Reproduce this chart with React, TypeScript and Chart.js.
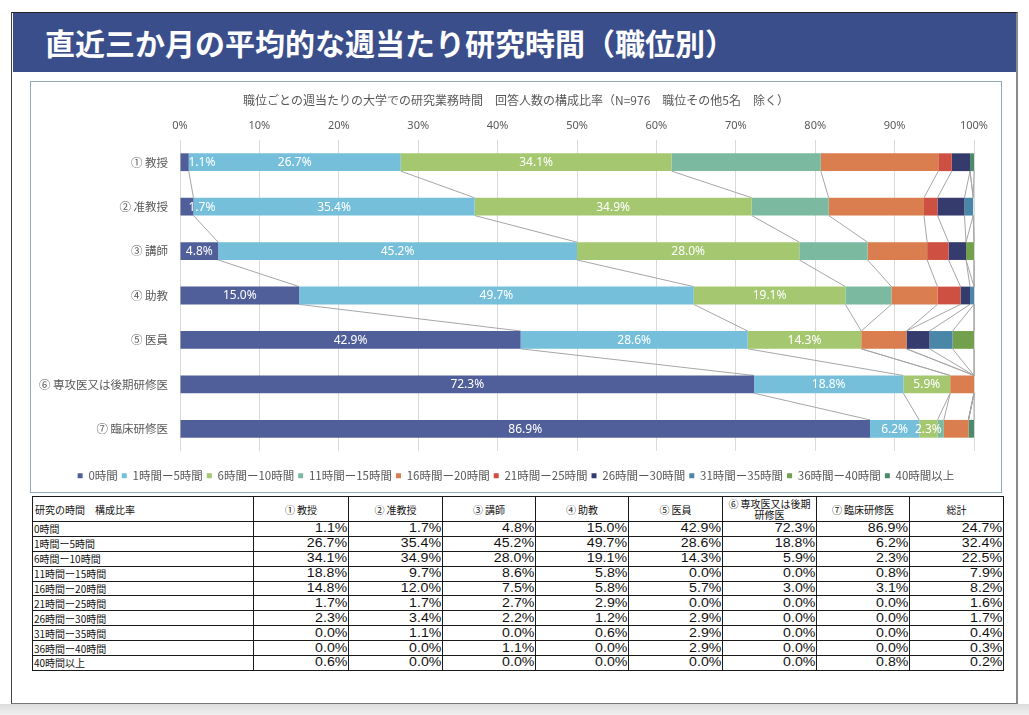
import React, { useEffect, useRef } from 'react';
import { Chart, registerables } from 'chart.js';

Chart.register(...registerables);

// ---------- data ----------
const categories = ['① 教授', '② 准教授', '③ 講師', '④ 助教', '⑤ 医員', '⑥ 専攻医又は後期研修医', '⑦ 臨床研修医'];
const tableHeaders = ['研究の時間　構成比率', '① 教授', '② 准教授', '③ 講師', '④ 助教', '⑤ 医員', '⑥ 専攻医又は後期\n研修医', '⑦ 臨床研修医', '総計'];
const seriesNames = ['0時間', '1時間ー5時間', '6時間ー10時間', '11時間ー15時間', '16時間ー20時間', '21時間ー25時間', '26時間ー30時間', '31時間ー35時間', '36時間ー40時間', '40時間以上'];

const h0 = [1.1, 1.7, 4.8, 15.0, 42.9, 72.3, 86.9];
const h1to5 = [26.7, 35.4, 45.2, 49.7, 28.6, 18.8, 6.2];
const h6to10 = [34.1, 34.9, 28.0, 19.1, 14.3, 5.9, 2.3];
const h11to15 = [18.8, 9.7, 8.6, 5.8, 0.0, 0.0, 0.8];
const h16to20 = [14.8, 12.0, 7.5, 5.8, 5.7, 3.0, 3.1];
const h21to25 = [1.7, 1.7, 2.7, 2.9, 0.0, 0.0, 0.0];
const h26to30 = [2.3, 3.4, 2.2, 1.2, 2.9, 0.0, 0.0];
const h31to35 = [0.0, 1.1, 0.0, 0.6, 2.9, 0.0, 0.0];
const h36to40 = [0.0, 0.0, 1.1, 0.0, 2.9, 0.0, 0.0];
const h40plus = [0.6, 0.0, 0.0, 0.0, 0.0, 0.0, 0.8];
const totals = [24.7, 32.4, 22.5, 7.9, 8.2, 1.6, 1.7, 0.4, 0.3, 0.2];

const series = [h0, h1to5, h6to10, h11to15, h16to20, h21to25, h26to30, h31to35, h36to40, h40plus];
const xTicks = [0, 10, 20, 30, 40, 50, 60, 70, 80, 90, 100];

const chartTitle = '職位ごとの週当たりの大学での研究業務時間　回答人数の構成比率（N=976　職位その他5名　除く）';
const pageTitle = '直近三か月の平均的な週当たり研究時間（職位別）';

// ---------- styles ----------
const colors = ['#505F9A', '#75BFDA', '#A5C76F', '#7BBAA0', '#DA7D4F', '#CE5043', '#363B6D', '#4986A8', '#72A04D', '#4D8A6B'];
const labelled = [0, 1, 2];
const CJK = "'Noto Sans CJK JP', 'Noto Sans', sans-serif";
const GRAY = '#595959';

const seriesLinesPlugin = {
  id: 'seriesLines',
  beforeDatasetsDraw(chart: any) {
    const { ctx } = chart;
    const xs = chart.scales.x;
    const meta = chart.getDatasetMeta(0);
    ctx.save();
    ctx.strokeStyle = '#A6A6A6';
    ctx.lineWidth = 1;
    for (let i = 0; i < categories.length - 1; i++) {
      const b1 = meta.data[i];
      const b2 = meta.data[i + 1];
      const y1 = b1.y + b1.height / 2;
      const y2 = b2.y - b2.height / 2;
      let c1 = 0;
      let c2 = 0;
      for (let s = 0; s < series.length; s++) {
        c1 += series[s][i];
        c2 += series[s][i + 1];
        const x1 = xs.getPixelForValue(Math.min(c1, 100));
        const x2 = xs.getPixelForValue(Math.min(c2, 100));
        ctx.beginPath();
        ctx.moveTo(x1, y1);
        ctx.lineTo(x2, y2);
        ctx.stroke();
      }
    }
    ctx.restore();
  },
};

const dataLabelPlugin = {
  id: 'dataLabels',
  afterDatasetsDraw(chart: any) {
    const { ctx } = chart;
    ctx.save();
    ctx.font = "12px 'Noto Sans', sans-serif";
    ctx.fillStyle = '#FFFFFF';
    ctx.textAlign = 'center';
    ctx.textBaseline = 'middle';
    labelled.forEach((ds) => {
      const meta = chart.getDatasetMeta(ds);
      meta.data.forEach((bar: any, i: number) => {
        const v = series[ds][i];
        if (!v) return;
        const txt = v.toFixed(1) + '%';
        const tw = ctx.measureText(txt).width;
        const w = bar.x - bar.base;
        let cx = (bar.x + bar.base) / 2;
        if (ds === 0 && w < tw) cx = bar.base + tw / 2 + 8;
        ctx.fillText(txt, cx, bar.y + 0.5);
      });
    });
    ctx.restore();
  },
};

function DataTable() {
  const colW = [221, 95, 94, 93, 93, 94, 94, 93, 94];
  const border = '1px solid #1a1a1a';
  const numFont = "'Liberation Sans', Arial, sans-serif";
  const num = (v: number) => (
    <span style={{ display: 'inline-block', transform: 'scaleX(1.18)', transformOrigin: 'right center' }}>
      {v.toFixed(1)}%
    </span>
  );
  const numCell = { border, fontFamily: numFont, fontSize: 12, lineHeight: '13px', color: '#111', textAlign: 'right' as const, padding: '0 1px' };
  return (
    <table
      style={{
        position: 'absolute', left: 32, top: 496, width: 971, borderCollapse: 'collapse',
        tableLayout: 'fixed', border: '1.5px solid #1a1a1a', background: '#fff',
      }}
    >
      <colgroup>
        {colW.map((w, i) => <col key={i} style={{ width: w }} />)}
      </colgroup>
      <tbody>
        <tr style={{ height: 25 }}>
          {tableHeaders.map((h, i) => (
            <td key={i} style={{
              border, fontFamily: CJK, fontSize: 10, lineHeight: '11px', color: '#111',
              textAlign: i === 0 ? 'left' : 'center', padding: '0 2px', whiteSpace: 'pre-line', verticalAlign: 'middle',
            }}>{h}</td>
          ))}
        </tr>
        {seriesNames.map((name, r) => (
          <tr key={r} style={{ height: 14.9 }}>
            <td style={{ border, fontFamily: CJK, fontSize: 10, lineHeight: '13px', color: '#111', padding: '0 1px', whiteSpace: 'nowrap' }}>{name}</td>
            {categories.map((_, c) => (
              <td key={c} style={numCell}>{num(series[r][c])}</td>
            ))}
            <td style={numCell}>{num(totals[r])}</td>
          </tr>
        ))}
      </tbody>
    </table>
  );
}

export default function App() {
  const canvasRef = useRef<HTMLCanvasElement>(null);

  useEffect(() => {
    if (!canvasRef.current) return;
    Chart.defaults.font.family = CJK;
    const chart = new Chart(canvasRef.current, {
      type: 'bar',
      data: {
        labels: categories,
        datasets: series.map((d, i) => ({
          label: seriesNames[i],
          data: d,
          backgroundColor: colors[i],
          borderWidth: 0,
          barPercentage: 0.4,
          categoryPercentage: 1,
        })),
      },
      options: {
        indexAxis: 'y',
        responsive: false,
        animation: false,
        devicePixelRatio: 1,
        layout: { padding: { left: 0, right: 0, top: 0, bottom: 0.5 } },
        scales: {
          x: {
            stacked: true,
            position: 'top',
            min: 0,
            max: 100,
            afterBuildTicks: (s: any) => { s.ticks = xTicks.map((v) => ({ value: v })); },
            ticks: {
              callback: (v: any) => v + '%',
              color: GRAY,
              font: { size: 11, family: "'Noto Sans', sans-serif" },
              padding: 7.4,
              maxRotation: 0,
              autoSkip: false,
            },
            grid: { color: '#D9D9D9', drawTicks: false, lineWidth: 1 },
            border: { display: false },
            afterFit: (s: any) => { s.height = 24.6; },
          },
          y: {
            stacked: true,
            ticks: { color: GRAY, font: { size: 11.5, family: CJK }, padding: 12, autoSkip: false },
            grid: { display: false, drawTicks: false },
            border: { display: false },
            afterFit: (s: any) => { s.width = 149; },
          },
          yRight: {
            type: 'category',
            labels: categories,
            position: 'right',
            display: true,
            ticks: { display: false },
            grid: { display: false, drawTicks: false },
            border: { display: false },
            afterFit: (s: any) => { s.width = 27; },
          },
        },
        plugins: {
          title: {
            display: true,
            text: chartTitle,
            color: GRAY,
            font: { size: 12, weight: 'normal', family: CJK },
            padding: { top: 11, bottom: 8 },
          },
          legend: {
            position: 'bottom',
            title: { display: true, text: '', padding: { top: 3, bottom: 0 }, font: { size: 10 } },
            labels: {
              boxWidth: 5,
              boxHeight: 5,
              padding: 4,
              color: GRAY,
              font: { size: 11.5, family: CJK },
            },
          },
          tooltip: { enabled: false },
        },
      } as any,
      plugins: [seriesLinesPlugin, dataLabelPlugin],
    });
    return () => chart.destroy();
  }, []);

  return (
    <div style={{ position: 'absolute', left: 0, top: 0, width: 1029, height: 715, background: '#fff', overflow: 'hidden' }}>
      <div style={{ position: 'absolute', left: 0, top: 704, width: 1029, height: 11, background: 'linear-gradient(to bottom, #dcdcdc, #f2f2f2)' }} />
      <div style={{
        position: 'absolute', left: 11, top: 12, width: 1007, height: 692, boxSizing: 'border-box', background: '#fff',
        borderTop: '1px solid #222', borderLeft: '1px solid #444', borderRight: '2px solid #8a8a8a', borderBottom: '1px solid #777',
      }} />
      <div style={{
        position: 'absolute', left: 13, top: 13, width: 1003, height: 59, background: '#3B4E8C',
        color: '#fff', fontFamily: CJK, fontWeight: 700, fontSize: 30, lineHeight: '58px', paddingLeft: 32, boxSizing: 'border-box', whiteSpace: 'nowrap',
      }}>{pageTitle}</div>
      <div style={{ position: 'absolute', left: 30, top: 81, width: 972, height: 412, boxSizing: 'border-box', border: '1px solid #8FAABF', background: '#fff' }} />
      <canvas ref={canvasRef} width={970} height={410} style={{ position: 'absolute', left: 31, top: 82, width: 970, height: 410 }} />
      <DataTable />
    </div>
  );
}
